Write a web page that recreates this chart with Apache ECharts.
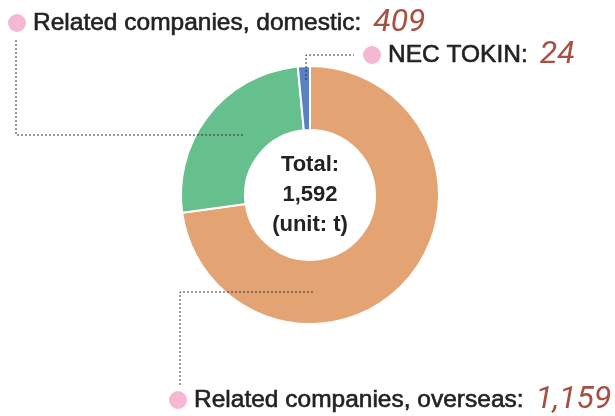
<!DOCTYPE html>
<html>
<head>
<meta charset="utf-8">
<title>Breakdown by destination</title>
<script src="https://cdn.jsdelivr.net/npm/echarts@6/dist/echarts.min.js"></script>
<style>
  html, body { margin: 0; padding: 0; background: #fff; }
  #chart { width: 615px; height: 416px; }
</style>
</head>
<body>
<div id="chart"></div>
<script>
// data, clockwise from 12 o'clock
const names = ['Related companies, overseas', 'Related companies, domestic', 'NEC TOKIN']
const values = [1159, 409, 24]
const colors = ['#e3a372', '#66c08d', '#5a80c4']
const unit = 't'

// where each callout sits (left edge of the pink dot, vertical middle)
const labelPos = [[169, 400], [8, 23], [363, 55]]
// dotted leader lines
const leaders = [
  [[313, 292], [180, 292], [180, 386]],
  [[243, 135], [16, 135], [16, 40]],
  [[306, 80], [306, 55], [354, 55]]
]

const fmt = n => n.toLocaleString('en-US')
const total = values.reduce((a, b) => a + b, 0)
const font = '"Liberation Sans", Arial, sans-serif'

const chart = echarts.init(document.getElementById('chart'))

const option = {
  animation: false,
  series: [{
    type: 'pie',
    center: [310, 195],
    radius: [65, 129],
    startAngle: 90,
    clockwise: true,
    silent: true,
    data: names.map((n, i) => ({
      name: n,
      value: values[i],
      itemStyle: { color: colors[i] }
    })),
    itemStyle: { borderColor: '#fff', borderWidth: 2 },
    label: {
      show: true,
      overflow: 'none',
      formatter: p => '{dot|}{name|' + p.name + ':}{val|' + fmt(p.value) + '}',
      rich: {
        dot: { width: 18, height: 18, borderRadius: 9, backgroundColor: '#f5b8d3' },
        name: {
          fontFamily: font, fontSize: 24.5, color: '#222',
          textBorderColor: '#222', textBorderWidth: 0.6, padding: [0, 0, 0, 7]
        },
        val: {
          fontFamily: 'Roboto, ' + font, fontSize: 32,
          fontStyle: 'italic', color: '#a84f42', padding: [0, 0, 0, 12]
        }
      }
    },
    labelLine: { show: false },
    labelLayout: p => ({
      x: labelPos[p.dataIndex][0],
      y: labelPos[p.dataIndex][1],
      align: 'left',
      verticalAlign: 'middle'
    })
  }],
  graphic: [
    {
      type: 'text',
      x: 310,
      y: 195,
      z: 10,
      style: {
        text: 'Total:\n' + fmt(total) + '\n(unit: ' + unit + ')',
        fontFamily: font,
        fontSize: 22,
        fontWeight: 'bold',
        lineHeight: 30,
        fill: '#222',
        align: 'center',
        verticalAlign: 'middle'
      }
    }
  ].concat(leaders.map(pts => ({
    type: 'polyline',
    z: 10,
    shape: { points: pts },
    style: { stroke: '#333', lineWidth: 1, lineDash: [2, 2], fill: null }
  })))
}

chart.setOption(option)
</script>
</body>
</html>
